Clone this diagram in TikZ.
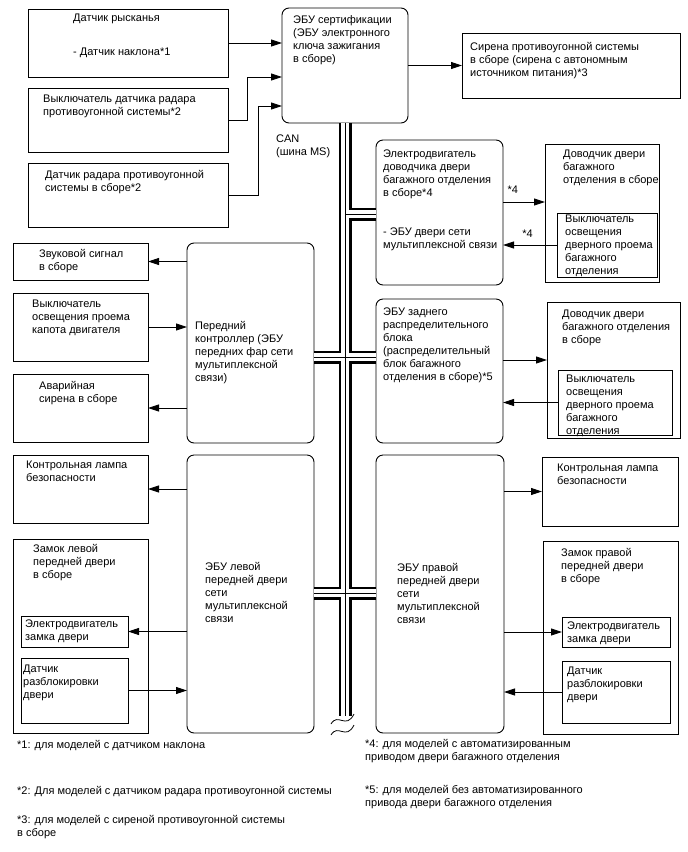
\documentclass[tikz,border=0pt]{standalone}
\usepackage{fontspec}
\setmainfont{Liberation Sans}
\usetikzlibrary{arrows.meta, calc}
\tikzset{
  blk/.style={rectangle, draw=black, line width=0.9pt, inner sep=0pt, outer sep=0pt, anchor=north west},
  rblk/.style={blk, rounded corners=7pt},
  lbl/.style={anchor=north west, yshift=9.1pt, align=left, inner sep=0pt,
    font=\fontsize{11}{13}\selectfont, execute at begin node=\strut},
  tag/.style={anchor=base west, inner sep=0pt, font=\fontsize{11}{13}\selectfont},
  arr/.style={-{Triangle[length=11pt,width=7pt]}, line width=0.9pt},
}

\begin{document}
\begin{tikzpicture}[x=1pt, y=-1pt]
  \useasboundingbox (0,0) rectangle (688,852);

  % upper part: certification ECU
  \node[blk, minimum width=200, minimum height=68] (yaw) at (28,9) {};
  \node[blk, minimum width=200, minimum height=64] (rsw) at (28,88) {};
  \node[blk, minimum width=200, minimum height=64] (rsn) at (28,163) {};
  \node[rblk, minimum width=126, minimum height=115] (ecu) at (282,8) {};
  \node[blk, minimum width=218, minimum height=65] (siren) at (462,33) {};
  \node[lbl] (yaw-t) at (73,23) {Датчик рысканья\\[21pt]- Датчик наклона*1};
  \node[lbl] (rsw-t) at (43,104) {Выключатель датчика радара\\противоугонной системы*2};
  \node[lbl] (rsn-t) at (45,179) {Датчик радара противоугонной\\системы в сборе*2};
  \node[lbl] (ecu-t) at (293,24) {ЭБУ сертификации\\(ЭБУ электронного\\ключа зажигания\\в сборе)};
  \node[lbl] (siren-t) at (470,51) {Сирена противоугонной системы\\в сборе (сирена с автономным\\источником питания)*3};
  \node[lbl] (can) at (276,144) {CAN\\(шина MS)};
  \draw[arr] (yaw.east) -- (ecu.west |- yaw.east);
  \draw[arr] (rsw.east) -- ++(19,0) |- ($(ecu.north west)+(0,69)$);
  \draw[arr] (rsn.east) -- ++(30,0) |- ($(ecu.north west)+(0,98)$);
  \draw[arr] (ecu.east |- siren.west) -- (siren.west);

  % tailgate
  \node[rblk, minimum width=127, minimum height=145] (tgm) at (376,140) {};
  \node[blk, minimum width=114, minimum height=138] (cl1) at (545,144) {};
  \node[blk, minimum width=100, minimum height=64] (sw1) at (557,213) {};
  \node[lbl] (tgm-t) at (383,159) {Электродвигатель\\доводчика двери\\багажного отделения\\в сборе*4\\[26pt]- ЭБУ двери сети\\мультиплексной связи};
  \node[lbl] (cl1-t) at (563,159) {Доводчик двери\\багажного\\отделения в сборе};
  \node[lbl] (sw1-t) at (565,224) {Выключатель\\освещения\\дверного проема\\багажного\\отделения};
  \draw[arr] ($(tgm.north east)+(0,62)$) -- node[tag, pos=0.1, yshift=9pt] (st4a) {*4} ($(cl1.north west)+(0,58)$);
  \draw[arr] (sw1.west) -- node[tag, pos=0.65, yshift=8pt] (st4b) {*4} (tgm.east |- sw1.west);

  % front controller
  \node[blk, minimum width=135, minimum height=37] (horn) at (13,243) {};
  \node[blk, minimum width=135, minimum height=68] (hood) at (13,293) {};
  \node[blk, minimum width=135, minimum height=68] (haz) at (13,374) {};
  \node[rblk, minimum width=127, minimum height=200] (fc) at (187,243) {};
  \node[lbl] (horn-t) at (39,258) {Звуковой сигнал\\в сборе};
  \node[lbl] (hood-t) at (32,309) {Выключатель\\освещения проема\\капота двигателя};
  \node[lbl] (haz-t) at (39,390) {Аварийная\\сирена в сборе};
  \node[lbl] (fc-t) at (195,330) {Передний\\контроллер (ЭБУ\\передних фар сети\\мультиплексной\\связи)};
  \draw[arr] (fc.west |- horn.east) -- (horn.east);
  \draw[arr] (hood.east) -- (fc.west |- hood.east);
  \draw[arr] (fc.west |- haz.east) -- (haz.east);

  % rear junction block
  \node[rblk, minimum width=127, minimum height=144] (rear) at (376,299) {};
  \node[blk, minimum width=133, minimum height=136] (cl2) at (547,302) {};
  \node[blk, minimum width=114, minimum height=65] (sw2) at (558,370) {};
  \node[lbl] (rear-t) at (383,317) {ЭБУ заднего\\распределительного\\блока\\(распределительный\\блок багажного\\отделения в сборе)*5};
  \node[lbl] (cl2-t) at (562,319) {Доводчик двери\\багажного отделения\\в сборе};
  \node[lbl] (sw2-t) at (566,384) {Выключатель\\освещения\\дверного проема\\багажного\\отделения};
  \draw[arr] ($(rear.north east)+(0,61)$) -- ($(cl2.north west)+(0,58)$);
  \draw[arr] (sw2.west) -- (rear.east |- sw2.west);

  % left front door
  \node[blk, minimum width=135, minimum height=68] (lampl) at (13,455) {};
  \node[blk, minimum width=135, minimum height=194] (lockl) at (13,539) {};
  \node[blk, minimum width=107, minimum height=31] (motl) at (21,616) {};
  \node[blk, minimum width=107, minimum height=65] (senl) at (21,658) {};
  \node[rblk, minimum width=127, minimum height=278] (ldecu) at (187,455) {};
  \node[lbl] (lampl-t) at (26,470) {Контрольная лампа\\безопасности};
  \node[lbl] (lockl-t) at (33,553) {Замок левой\\передней двери\\в сборе};
  \node[lbl] (motl-t) at (25,629) {Электродвигатель\\замка двери};
  \node[lbl] (senl-t) at (23,674) {Датчик\\разблокировки\\двери};
  \node[lbl] (ldecu-t) at (205,571) {ЭБУ левой\\передней двери\\сети\\мультиплексной\\связи};
  \draw[arr] (ldecu.west |- lampl.east) -- (lampl.east);
  \draw[arr] (ldecu.west |- motl.east) -- (motl.east);
  \draw[arr] (senl.east) -- (ldecu.west |- senl.east);

  % right front door
  \node[rblk, minimum width=128, minimum height=278] (rdecu) at (376,455) {};
  \node[blk, minimum width=136, minimum height=69] (lampr) at (542,457) {};
  \node[blk, minimum width=135, minimum height=193] (lockr) at (543,541) {};
  \node[blk, minimum width=108, minimum height=30] (motr) at (562,617) {};
  \node[blk, minimum width=108, minimum height=62] (senr) at (562,661) {};
  \node[lbl] (rdecu-t) at (397,572) {ЭБУ правой\\передней двери\\сети\\мультиплексной\\связи};
  \node[lbl] (lampr-t) at (557,473) {Контрольная лампа\\безопасности};
  \node[lbl] (lockr-t) at (561,557) {Замок правой\\передней двери\\в сборе};
  \node[lbl] (motr-t) at (567,631) {Электродвигатель\\замка двери};
  \node[lbl] (senr-t) at (567,676) {Датчик\\разблокировки\\двери};
  \draw[arr] (rdecu.east |- lampr.west) -- (lampr.west);
  \draw[arr] (rdecu.east |- motr.west) -- (motr.west);
  \draw[arr] (senr.west) -- (rdecu.east |- senr.west);

  % CAN bus
  \coordinate (bt) at (ecu.south);
  \coordinate (bb) at ($(ecu.south)+(0,593)$);
  \coordinate (j1) at ($(ecu.south)+(0,91)$);
  \coordinate (j2) at ($(ecu.south)+(0,234)$);
  \coordinate (j3) at ($(ecu.south)+(0,470)$);
  \foreach \lw/\lc in {13pt/black, 8pt/white, 0.8pt/black}{
    \draw[line width=\lw, \lc] (bt) -- (bb);
    \draw[line width=\lw, \lc] (j1) -- (tgm.west |- j1);
    \draw[line width=\lw, \lc] (fc.east |- j2) -- (rear.west |- j2);
    \draw[line width=\lw, \lc] (ldecu.east |- j3) -- (rdecu.west |- j3);
  }
  \draw[line width=0.8pt] ($(bb)+(-14,8)$) .. controls +(7,-12) and +(-8,16) .. ($(bb)+(9,-2)$);
  \draw[line width=0.8pt] ($(bb)+(-14,19)$) .. controls +(7,-12) and +(-8,16) .. ($(bb)+(9,9)$);

  % footnotes
  \node[lbl] (fn1) at (17,748) {*1: для моделей с датчиком наклона};
  \node[lbl] (fn2) at (17,794) {*2: Для моделей с датчиком радара противоугонной системы};
  \node[lbl] (fn3) at (17,824) {*3: для моделей с сиреной противоугонной системы\\в сборе};
  \node[lbl] (fn4) at (365,748) {*4: для моделей с автоматизированным\\приводом двери багажного отделения};
  \node[lbl] (fn5) at (365,794) {*5: для моделей без автоматизированного\\привода двери багажного отделения};
\end{tikzpicture}
\end{document}
